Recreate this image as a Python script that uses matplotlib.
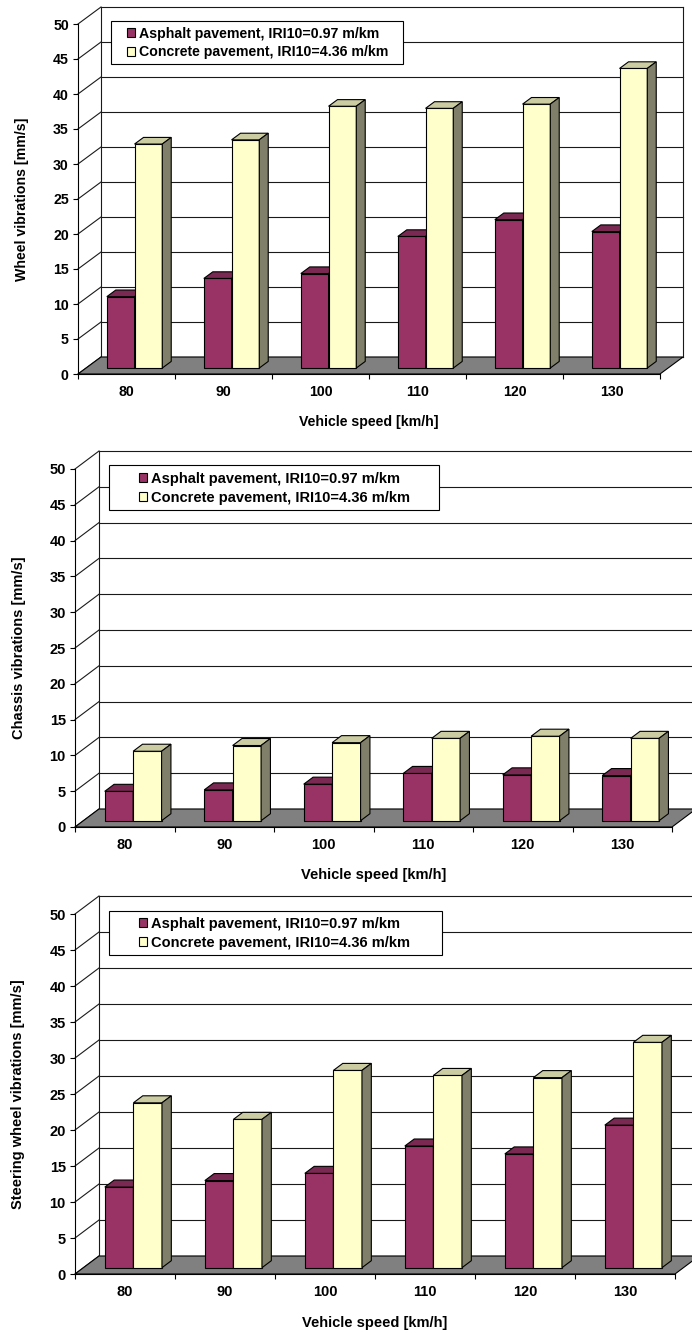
import matplotlib.pyplot as plt
from matplotlib.patches import Polygon, Rectangle, Patch

plt.rcParams['font.family'] = ['Liberation Sans', 'DejaVu Sans']
plt.rcParams['font.weight'] = 'bold'

speeds = ['80', '90', '100', '110', '120', '130']
series_names = ['Asphalt pavement, IRI10=0.97 m/km',
                'Concrete pavement, IRI10=4.36 m/km']
value_ticks = list(range(0, 51, 5))

wheel_asphalt = [10.2, 12.8, 13.5, 18.8, 21.2, 19.5]
wheel_concrete = [32.0, 32.6, 37.4, 37.1, 37.7, 42.8]
chassis_asphalt = [4.1, 4.3, 5.1, 6.6, 6.4, 6.3]
chassis_concrete = [9.7, 10.5, 10.9, 11.5, 11.8, 11.5]
steering_asphalt = [11.2, 12.1, 13.1, 16.9, 15.8, 19.8]
steering_concrete = [22.9, 20.6, 27.4, 26.7, 26.4, 31.3]

ylabels = ['Wheel vibrations [mm/s]', 'Chassis vibrations [mm/s]',
           'Steering wheel vibrations [mm/s]']

front_col = ['#993366', '#ffffcc']
top_col = ['#7a2952', '#cccca3']
side_col = ['#4d1a33', '#80806a']
floor_col = '#808080'
line_col = '#1a1a1a'

W, H = 692, 1333

# panel layout in pixels: front x at 0 and 6, front y at 0 and 50, depth offset
panels = [
    dict(x0=78, x6=660, y0=374, y50=24, dxp=23, dyp=17, fs=10.2,
         ylab_x=22, xlab_y=422, box=(111, 21, 403, 64), mark_x=127, rows=(32.7, 53.3)),
    dict(x0=75, x6=672, y0=827, y50=469, dxp=24, dyp=18, fs=10.5,
         ylab_x=19, xlab_y=875, box=(109, 465, 439, 510), mark_x=139, rows=(477.3, 499.3)),
    dict(x0=75, x6=675, y0=1274, y50=914, dxp=24, dyp=18, fs=10.5,
         ylab_x=18, xlab_y=1323, box=(109, 911, 442, 955), mark_x=139, rows=(922.3, 944)),
]
data = [(wheel_asphalt, wheel_concrete),
        (chassis_asphalt, chassis_concrete),
        (steering_asphalt, steering_concrete)]

F0, F1 = 0.35, 0.74          # bar depth within the floor
BW = 1 / 3.5                 # bar width, gap width 150%


def draw_bar(ax, xl, val, k, dx, dy):
    ox, oy = F0 * dx, F0 * dy
    ex, ey = (F1 - F0) * dx, (F1 - F0) * dy
    x1, x2 = xl + ox, xl + BW + ox
    y1, y2 = oy, oy + val
    kw = dict(edgecolor='black', linewidth=0.8, joinstyle='miter', clip_on=False, zorder=3)
    ax.add_patch(Polygon([(x1, y1), (x2, y1), (x2, y2), (x1, y2)], facecolor=front_col[k], **kw))
    ax.add_patch(Polygon([(x1, y2), (x2, y2), (x2 + ex, y2 + ey), (x1 + ex, y2 + ey)],
                         facecolor=top_col[k], **kw))
    ax.add_patch(Polygon([(x2, y1), (x2 + ex, y1 + ey), (x2 + ex, y2 + ey), (x2, y2)],
                         facecolor=side_col[k], **kw))


fig = plt.figure(figsize=(W / 100, H / 100), dpi=100)

for p, (asph, conc), ylab in zip(panels, data, ylabels):
    catw = (p['x6'] - p['x0']) / 6
    valh = (p['y0'] - p['y50']) / 50
    dx, dy = p['dxp'] / catw, p['dyp'] / valh
    aw = p['x6'] + p['dxp'] - p['x0']
    ah = p['y0'] - (p['y50'] - p['dyp'])
    ax = fig.add_axes([p['x0'] / W, 1 - p['y0'] / H, aw / W, ah / H])
    ax.set_xlim(0, 6 + dx)
    ax.set_ylim(0, 50 + dy)
    ax.patch.set_visible(False)
    fs = p['fs']

    # walls: side wall diagonals and back wall gridlines
    for v in value_ticks:
        ax.plot([0, dx], [v, v + dy], color=line_col, lw=0.8, zorder=1, clip_on=False)
        ax.plot([dx, 6 + dx], [v + dy, v + dy], color=line_col, lw=0.8, zorder=1, clip_on=False)
    ax.plot([dx, dx], [dy, 50 + dy], color=line_col, lw=0.8, zorder=1, clip_on=False)
    ax.plot([6 + dx, 6 + dx], [dy, 50 + dy], color=line_col, lw=0.8, zorder=1, clip_on=False)

    # floor
    ax.add_patch(Polygon([(0, 0), (6, 0), (6 + dx, dy), (dx, dy)], facecolor=floor_col,
                         edgecolor='black', linewidth=0.8, zorder=2, clip_on=False))

    for i in range(len(speeds)):
        draw_bar(ax, i + 0.75 * BW, asph[i], 0, dx, dy)
        draw_bar(ax, i + 1.75 * BW, conc[i], 1, dx, dy)

    for s in ['top', 'right']:
        ax.spines[s].set_visible(False)
    ax.spines['left'].set_bounds(0, 50)
    ax.spines['bottom'].set_bounds(0, 6)
    for s in ['left', 'bottom']:
        ax.spines[s].set_linewidth(0.8)
        ax.spines[s].set_zorder(4)

    ax.set_yticks(value_ticks)
    ax.set_yticklabels([str(v) for v in value_ticks], fontsize=fs, fontweight='bold')
    ax.set_xticks(range(7))
    ax.set_xticklabels([])
    ax.set_xticks([i + 0.5 for i in range(6)], minor=True)
    ax.set_xticklabels(speeds, minor=True, fontsize=fs, fontweight='bold')
    ax.tick_params(axis='y', direction='out', length=3.6, width=0.8, pad=3)
    ax.tick_params(axis='x', which='major', direction='out', length=3.6, width=0.8)
    ax.tick_params(axis='x', which='minor', length=0, pad=8)

    ax.set_ylabel(ylab, fontsize=fs, fontweight='bold')
    ax.yaxis.label.set_va('center')
    ax.yaxis.set_label_coords((p['ylab_x'] - p['x0']) / aw, (p['y0'] - p['y50']) / 2 / ah)
    ax.set_xlabel('Vehicle speed [km/h]', fontsize=fs, fontweight='bold')
    ax.xaxis.label.set_va('center')
    ax.xaxis.set_label_coords((p['x6'] - p['x0']) / 2 / aw, -(p['xlab_y'] - p['y0']) / ah)

    # legend
    bl, bt, br, bb = p['box']
    ax.add_patch(Rectangle((bl / W, 1 - bb / H), (br - bl) / W, (bb - bt) / H,
                           transform=fig.transFigure, facecolor='white', edgecolor='black',
                           linewidth=0.8, zorder=5, clip_on=False))
    handles = [Patch(facecolor=front_col[k], edgecolor='black', linewidth=0.8) for k in range(2)]
    fpx = fs * 100 / 72
    leg = ax.legend(handles, series_names, loc='center left',
                    bbox_to_anchor=(p['mark_x'] / W, 1 - sum(p['rows']) / 2 / H),
                    bbox_transform=fig.transFigure, frameon=False, borderpad=0,
                    borderaxespad=0, handlelength=8 / fpx, handleheight=8 / fpx,
                    handletextpad=0.3, labelspacing=0.35,
                    prop=dict(size=fs, weight='bold'))
    leg.set_zorder(6)

fig.savefig('out.png', dpi=100)
